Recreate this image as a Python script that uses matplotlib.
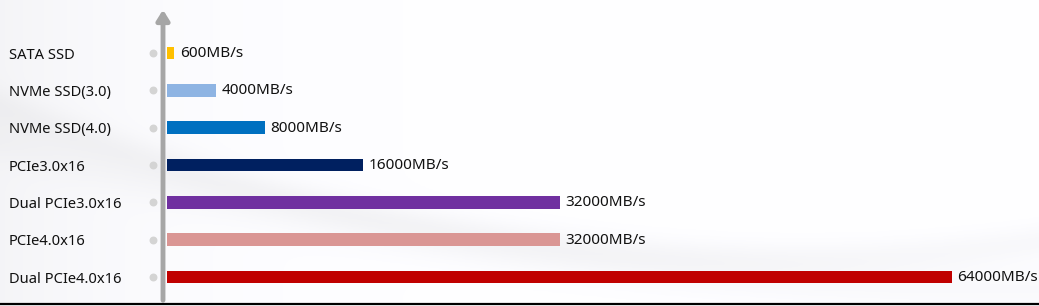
import numpy as np
import matplotlib
matplotlib.use("Agg")
import matplotlib.pyplot as plt
from matplotlib.transforms import blended_transform_factory

categories = ["SATA SSD", "NVMe SSD(3.0)", "NVMe SSD(4.0)", "PCIe3.0x16",
              "Dual PCIe3.0x16", "PCIe4.0x16", "Dual PCIe4.0x16"]
speeds = [600, 4000, 8000, 16000, 32000, 32000, 64000]
value_labels = ["600MB/s", "4000MB/s", "8000MB/s", "16000MB/s",
                "32000MB/s", "32000MB/s", "64000MB/s"]
colors = ["#ffc000", "#8eb4e3", "#0070c0", "#002060",
          "#7030a0", "#da9694", "#c00000"]

W, H = 1039, 306
plt.rcParams['font.family'] = ['Noto Sans', 'DejaVu Sans']
fig = plt.figure(figsize=(W / 100, H / 100), dpi=100)

# subtle background
bg = fig.add_axes([0, 0, 1, 1], zorder=-10)
xx, yy = np.meshgrid(np.linspace(0, 1, 400), np.linspace(0, 1, 120))
base = 1 - 0.04 * np.exp(-xx * 6)
swoosh = 0.025 * np.exp(-((yy - (0.15 + 0.9 * (xx - 0.75) ** 2)) / 0.06) ** 2)
swoosh2 = 0.02 * np.exp(-((yy - (0.05 + 0.5 * (1 - xx) ** 2)) / 0.08) ** 2)
img = np.clip(base - swoosh - swoosh2, 0, 1)
rgb = np.dstack([img, img, np.clip(img + 0.01, 0, 1)])
bg.imshow(rgb, extent=[0, 1, 0, 1], aspect='auto', origin='lower')
bg.set_xlim(0, 1); bg.set_ylim(0, 1)
bg.axis('off')

left_px, right_px = 167, W
top_px, bot_px = 0, 303
ax = fig.add_axes([left_px / W, (H - bot_px) / H, (right_px - left_px) / W, (bot_px - top_px) / H])
ax.patch.set_alpha(0)
scale_px = 785 / 64000
ax.set_xlim(0, (right_px - left_px) / scale_px)
n = len(categories)
pos = np.arange(n)
ax.set_ylim(6.70, -1.42)
ax.barh(pos, speeds, height=0.34, color=colors)
for s in ax.spines.values():
    s.set_visible(False)
ax.set_xticks([]); ax.set_yticks([])

tr = blended_transform_factory(fig.transFigure, ax.transData)
for i, (s, lab) in enumerate(zip(speeds, value_labels)):
    ax.annotate(lab, (s, i), xytext=(4, -0.5), textcoords='offset points',
                va='center', ha='left', fontsize=11, color='#111111')
for i, c in enumerate(categories):
    ax.text(9 / W, i + 0.06, c, transform=tr, va='center', ha='left', fontsize=10.6, color='#111111')
ax.scatter([153 / W] * n, pos, transform=tr, s=22, color='#d4d4d4', zorder=3, clip_on=False)

# vertical axis arrow
fig.add_artist(matplotlib.patches.FancyArrowPatch(
    (163 / W, (H - 303) / H), (163 / W, (H - 7) / H), transform=fig.transFigure,
    arrowstyle='-|>,head_length=4,head_width=2.5', mutation_scale=1.5,
    color='#a6a6a6', lw=3.5))
# bottom line
fig.add_artist(matplotlib.lines.Line2D([0, 1], [(H - 304) / H] * 2, transform=fig.transFigure,
                                       color='#000000', lw=1.6))

fig.savefig("out.png", dpi=100)
